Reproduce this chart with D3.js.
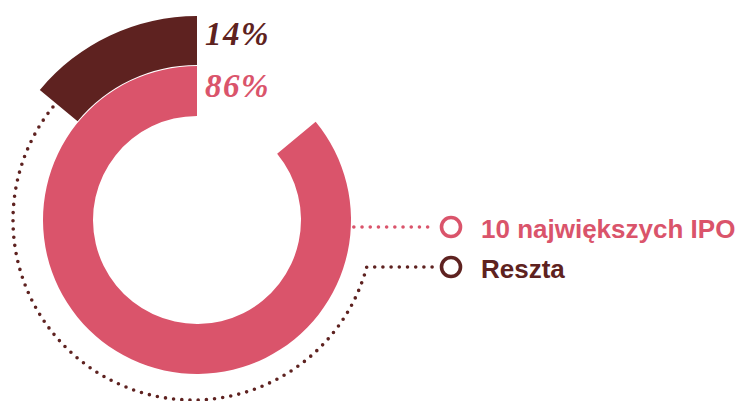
<!DOCTYPE html>
<html>
<head>
<meta charset="utf-8">
<script src="https://cdn.jsdelivr.net/npm/d3@7"></script>
<style>
  html, body { margin: 0; padding: 0; background: #fff; }
  svg { display: block; }
</style>
</head>
<body>
<div id="chart"></div>
<script>
// data
var categories = ["10 największych IPO", "Reszta"],
    shares = [86, 14],
    colors = ["#da546b", "#5e2220"]

var W = 740, H = 401,
    cx = 197, cy = 220,
    rings = [[104, 154], [155, 204]],   // inner/outer radius per category
    dotR = 180, dotCx = 193,
    legendX = 451, legendY0 = 227, legendStep = 40

var svg = d3.select("#chart").append("svg")
    .attr("width", W)
    .attr("height", H)

var angle = d3.scaleLinear().domain([0, 100]).range([0, 2 * Math.PI])
var arc = d3.arc()

// each share is drawn as its own ring, ending at 12 o'clock
var g = svg.append("g").attr("transform", "translate(" + [cx, cy] + ")")
g.selectAll("path.ring")
    .data(shares)
    .join("path")
    .attr("class", "ring")
    .attr("fill", (d, i) => colors[i])
    .attr("d", (d, i) => arc({
        innerRadius: rings[i][0],
        outerRadius: rings[i][1],
        startAngle: 2 * Math.PI - angle(d),
        endAngle: 2 * Math.PI
    }))

// dotted leader lines
var dotted = {
    fill: "none",
    "stroke-width": 3.6,
    "stroke-linecap": "round",
    "stroke-dasharray": "0 8.2"
}
function applyDots(sel, color) {
    for (var k in dotted) sel.attr(k, dotted[k])
    sel.attr("stroke", color)
    return sel
}

// pink: from the ring's outer edge straight to the legend
var y0 = legendY0
var x0 = cx + Math.sqrt(rings[0][1] * rings[0][1] - (y0 - cy) * (y0 - cy)) + 3
applyDots(svg.append("path")
    .attr("d", "M" + x0 + "," + y0 + "H" + (legendX - 16)), colors[0])

// dark: around the chart from the 14% wedge to the legend
var y1 = legendY0 + legendStep
var a0 = -angle(shares[1]) - 0.012,
    a1 = Math.PI / 2 + Math.asin((y1 - cy) / dotR) // clockwise-from-top
var p = d3.path()
p.moveTo(dotCx + dotR * Math.sin(a0), cy - dotR * Math.cos(a0))
p.arc(dotCx, cy, dotR, a0 - Math.PI / 2, a1 - Math.PI / 2, true)
p.lineTo(legendX - 16, y1)
applyDots(svg.append("path").attr("d", p.toString()), colors[1])

// percent labels
svg.selectAll("text.pct")
    .data([1, 0])
    .join("text")
    .attr("class", "pct")
    .attr("x", 205)
    .attr("y", (d, i) => 45 + i * 52)
    .attr("fill", d => colors[d])
    .style("font-family", "'Liberation Serif', serif")
    .style("font-style", "italic")
    .style("font-weight", "bold")
    .style("font-size", "33px")
    .style("letter-spacing", "1.5px")
    .text(d => shares[d] + "%")

// legend
var leg = svg.selectAll("g.leg")
    .data(categories)
    .join("g")
    .attr("class", "leg")
    .attr("transform", (d, i) => "translate(" + [legendX, legendY0 + i * legendStep] + ")")

leg.append("circle")
    .attr("r", 9.5)
    .attr("fill", "#fff")
    .attr("stroke", (d, i) => colors[i])
    .attr("stroke-width", 3.6)

leg.append("text")
    .attr("x", 30)
    .attr("y", 11)
    .attr("fill", (d, i) => colors[i])
    .style("font-family", "'Liberation Sans', Arial, sans-serif")
    .style("font-weight", "bold")
    .style("font-size", "26px")
    .text(d => d)
</script>
</body>
</html>
